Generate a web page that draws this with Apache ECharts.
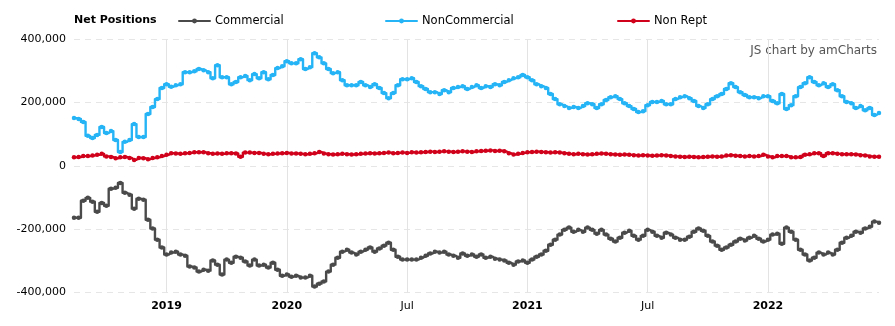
<!DOCTYPE html>
<html>
<head>
<meta charset="utf-8">
<script src="https://cdn.jsdelivr.net/npm/echarts@6/dist/echarts.min.js"></script>
<style>html,body{margin:0;padding:0;background:#fff}#c{width:895px;height:326px}</style>
</head>
<body>
<div id="c"></div>
<script>
// Weekly net positions (equal spacing, one entry per report)
const commercial = [
-164,-164,-110,-101,-113,-145,-117,-126,-72,-69,
-54,-85,-91,-135,-104,-107,-170,-198,-233,-258,
-280,-274,-271,-280,-284,-318,-321,-334,-328,-331,
-299,-312,-343,-296,-306,-287,-290,-302,-315,-296,
-315,-312,-321,-306,-328,-347,-343,-350,-347,-353,
-353,-347,-381,-372,-365,-334,-312,-290,-271,-265,
-274,-280,-271,-265,-258,-271,-261,-252,-243,-265,
-287,-296,-296,-296,-296,-290,-284,-277,-271,-274,
-271,-280,-284,-290,-277,-284,-280,-287,-280,-290,
-287,-293,-296,-299,-306,-312,-302,-299,-306,-296,
-287,-280,-268,-249,-233,-217,-202,-195,-208,-202,
-208,-195,-202,-214,-202,-217,-230,-239,-227,-211,
-205,-221,-233,-221,-202,-208,-221,-227,-211,-217,
-227,-233,-233,-224,-208,-198,-205,-221,-239,-252,
-265,-258,-249,-239,-230,-236,-227,-221,-230,-239,
-233,-217,-214,-246,-195,-208,-233,-265,-280,-299,
-290,-274,-280,-274,-280,-265,-243,-227,-221,-208,
-211,-198,-192,-176,-180
].map(v => v * 1000);

const nonCommercial = [
151,148,139,95,88,98,123,104,110,82,
44,76,82,132,91,91,164,186,211,246,
258,250,255,258,296,296,299,306,302,296,
277,318,280,280,258,265,280,284,271,290,
277,296,274,287,309,315,331,324,324,337,
306,312,356,343,324,306,293,296,271,255,
255,255,265,255,249,258,246,230,214,230,
255,274,274,277,265,252,243,233,233,227,
239,233,246,249,252,243,249,255,246,252,
249,258,255,265,271,277,280,287,280,271,
258,252,246,227,211,195,189,183,186,183,
189,198,195,183,195,208,217,220,211,198,
189,180,170,173,192,202,202,205,195,195,
211,217,220,214,205,189,183,195,211,220,
227,243,261,249,233,224,217,217,214,220,
220,205,198,227,180,192,220,249,261,280,
265,255,261,249,258,239,220,202,198,183,
189,176,183,161,167
].map(v => v * 1000);

const nonRept = [
27,28,31,31,33,35,38,30,28,24,
27,28,25,19,25,24,21,25,27,31,
35,40,39,38,40,41,43,43,43,40,
38,39,38,40,40,39,29,42,42,41,
41,38,37,38,39,40,41,39,39,38,
37,38,40,44,39,37,36,37,38,37,
36,37,38,39,40,39,40,41,42,40,
41,42,41,43,42,43,44,45,44,45,
46,45,44,45,46,45,44,46,47,48,
49,47,48,46,40,36,38,41,43,44,
45,44,43,42,43,42,40,38,37,38,
37,36,37,38,39,38,37,36,35,36,
35,34,33,34,33,32,33,34,33,31,
30,29,28,29,28,27,28,29,30,29,
30,33,34,32,31,30,31,30,31,35,
30,27,31,31,31,27,27,28,35,37,
40,40,31,40,40,38,37,37,37,36,
34,33,30,29,29
].map(v => v * 1000);

// tick labels on the (equally spaced) time axis
const tickIndex = [20, 46, 72, 98, 124, 150];
const tickText  = ['2019', '2020', 'Jul', '2021', 'Jul', '2022'];
const yTicks = [-400000, -200000, 0, 200000, 400000];

const categories = commercial.map((_, i) => i);

const FONT = 'Verdana, "DejaVu Sans", sans-serif';
const C_COM = '#4a4a4a', C_NC = '#25b4f5', C_NR = '#d0021b';

function mkSeries(name, data, color) {
  return {
    name, type: 'line', data, step: 'middle',
    symbol: 'circle', symbolSize: 4.5, showSymbol: true, showAllSymbol: true,
    lineStyle: { color, width: 2.4, join: 'round', cap: 'round' },
    itemStyle: { color, borderWidth: 0 },
    emphasis: { disabled: true },
    animation: false
  };
}

const chart = echarts.init(document.getElementById('c'), null, { renderer: 'canvas' });
const isTick = (idx) => tickIndex.indexOf(idx) >= 0;

chart.setOption({
  animation: false,
  textStyle: { fontFamily: FONT },
  grid: { left: 74, right: 16, top: 39.3, bottom: 33.5, containLabel: false },
  legend: [
    { data: ['Commercial'], left: 178, top: 15 },
    { data: ['NonCommercial'], left: 385, top: 15 },
    { data: ['Non Rept'], left: 617, top: 15 }
  ].map(l => Object.assign(l, {
    itemWidth: 31, itemHeight: 6, itemGap: 5, padding: 0,
    textStyle: { fontFamily: FONT, fontSize: 11.5, color: '#000' },
    selectedMode: false
  })),
  graphic: [
    { type: 'text', left: 74, top: 15,
      style: { text: 'Net Positions', font: 'bold 11px ' + FONT, fill: '#000' } },
    { type: 'text', right: 18, top: 45,
      style: { text: 'JS chart by amCharts', font: '12px ' + FONT, fill: '#555' } }
  ],
  xAxis: {
    type: 'category', data: categories, boundaryGap: false,
    axisLine: { show: false }, axisTick: { show: false },
    axisLabel: {
      interval: isTick, margin: 8, fontFamily: FONT, fontSize: 11, color: '#000',
      formatter: (v) => {
        const k = tickIndex.indexOf(Number(v));
        if (k < 0) return '';
        const t = tickText[k];
        return /^\d{4}$/.test(t) ? '{b|' + t + '}' : t;
      },
      rich: { b: { fontWeight: 'bold', fontFamily: FONT, fontSize: 11, color: '#000' } }
    },
    splitLine: { show: true, interval: isTick, lineStyle: { color: '#e3e3e3', width: 1 } }
  },
  yAxis: {
    type: 'value', min: yTicks[0], max: yTicks[yTicks.length - 1], interval: 200000,
    axisLine: { show: false }, axisTick: { show: false },
    axisLabel: {
      margin: 8, fontFamily: FONT, fontSize: 11, color: '#000',
      formatter: v => v.toLocaleString('en-US')
    },
    splitLine: { lineStyle: { color: '#e6e6e6', type: [6, 5], width: 1 } }
  },
  series: [
    mkSeries('Commercial', commercial, C_COM),
    mkSeries('NonCommercial', nonCommercial, C_NC),
    mkSeries('Non Rept', nonRept, C_NR)
  ]
});
</script>
</body>
</html>
